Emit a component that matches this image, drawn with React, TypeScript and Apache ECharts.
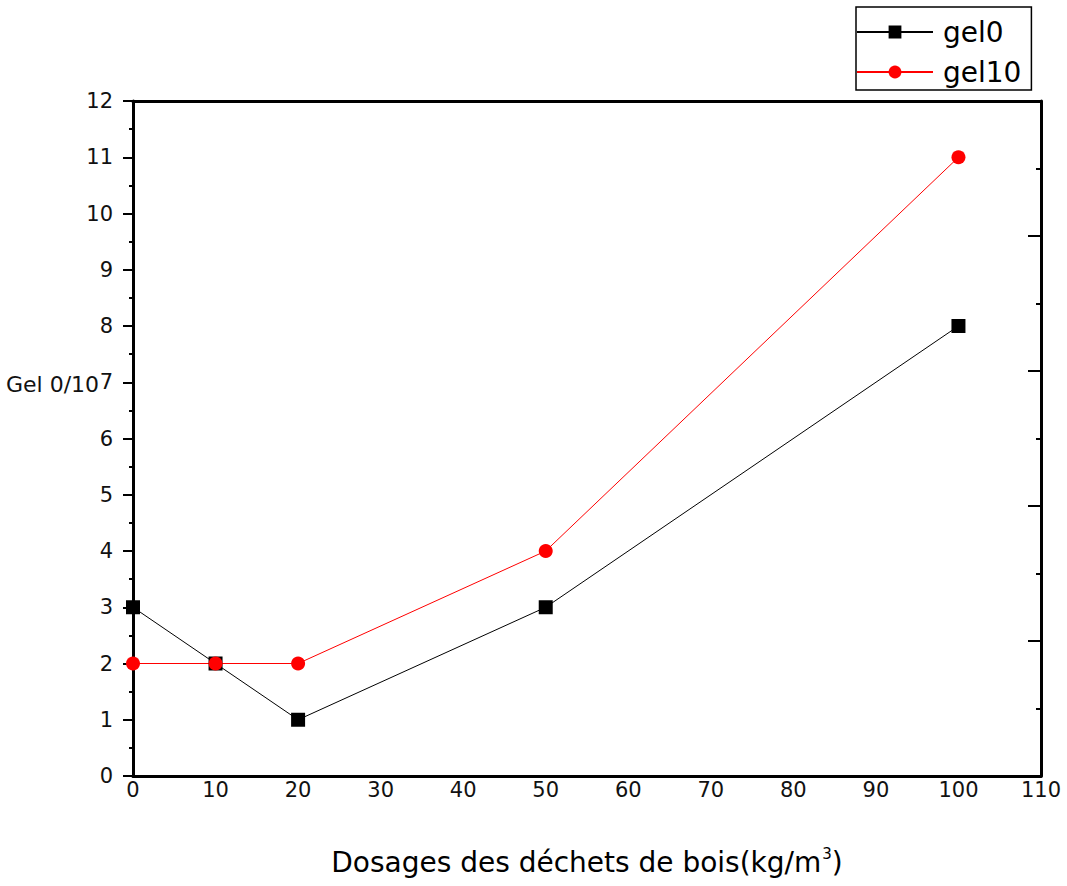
import React, { useEffect, useRef } from "react";
import * as echarts from "echarts";

const dosages = [0, 10, 20, 50, 100];
const gel0 = [3, 2, 1, 3, 8];
const gel10 = [2, 2, 2, 4, 11];
const seriesNames = ["gel0", "gel10"];

export default function App() {
  const ref = useRef<HTMLDivElement>(null);
  useEffect(() => {
    const chart = echarts.init(ref.current!, null, { renderer: "svg" });
    const font = "DejaVu Sans, Liberation Sans, Arial, sans-serif";
    chart.setOption({
      animation: false,
      backgroundColor: "#fff",
      textStyle: { fontFamily: font },
      grid: { left: 133, top: 101, width: 908, height: 675 },
      legend: {
        left: 856,
        top: 7,
        orient: "vertical",
        itemWidth: 76,
        itemHeight: 16,
        itemGap: 12,
        padding: [11, 10, 4, 0],
        borderColor: "#000",
        borderWidth: 1.5,
        textStyle: { fontSize: 28, lineHeight: 28, color: "#000", fontFamily: font, padding: [0, 0, 0, 5] },
        data: seriesNames,
      },
      xAxis: [
        {
          type: "value",
          min: 0,
          max: 110,
          interval: 10,
          position: "bottom",
          axisLine: { show: true, onZero: false, lineStyle: { color: "#000", width: 3 } },
          axisTick: { show: false },
          splitLine: { show: false },
          axisLabel: { fontSize: 21, color: "#111", margin: 3, fontFamily: font },
          name: "{a|Dosages des déchets de bois(kg/m}{s|3}{a|)}",
          nameLocation: "middle",
          nameGap: 70,
          nameTextStyle: {
            rich: {
              a: { fontSize: 28, color: "#000", fontFamily: font, verticalAlign: "bottom" },
              s: { fontSize: 15, color: "#000", fontFamily: font, padding: [0, 0, 15, 1], verticalAlign: "bottom" },
            },
          },
        },
        {
          type: "value",
          min: 0,
          max: 110,
          position: "top",
          axisLine: { show: true, onZero: false, lineStyle: { color: "#000", width: 3 } },
          axisTick: { show: false },
          axisLabel: { show: false },
          splitLine: { show: false },
        },
      ],
      yAxis: [
        {
          type: "value",
          min: 0,
          max: 12,
          interval: 1,
          position: "left",
          axisLine: { show: true, onZero: false, lineStyle: { color: "#000", width: 3 } },
          axisTick: { show: true, length: 10, lineStyle: { color: "#000", width: 2 } },
          minorTick: { show: true, splitNumber: 2, length: 4, lineStyle: { color: "#000", width: 2 } },
          splitLine: { show: false },
          axisLabel: { fontSize: 21, color: "#111", margin: 20, fontFamily: font },
        },
        {
          type: "value",
          min: 0,
          max: 12,
          interval: 2.4,
          position: "right",
          axisLine: { show: true, onZero: false, lineStyle: { color: "#000", width: 3 } },
          axisTick: { show: true, inside: true, length: 13, lineStyle: { color: "#000", width: 2 } },
          minorTick: { show: true, splitNumber: 2, length: 5, lineStyle: { color: "#000", width: 2 } },
          splitLine: { show: false },
          axisLabel: { show: false },
        },
      ],
      graphic: [
        {
          type: "text",
          left: 6,
          top: 373,
          z: 100,
          style: { text: "Gel 0/10", fontSize: 22, fill: "#111", fontFamily: font },
        },
      ],
      series: [
        {
          name: seriesNames[0],
          type: "line",
          data: dosages.map((d, i) => [d, gel0[i]]),
          symbol: "rect",
          symbolSize: 14,
          itemStyle: { color: "#000" },
          lineStyle: { color: "#000", width: 1 },
        },
        {
          name: seriesNames[1],
          type: "line",
          data: dosages.map((d, i) => [d, gel10[i]]),
          symbol: "circle",
          symbolSize: 14,
          itemStyle: { color: "#ff0000" },
          lineStyle: { color: "#ff0000", width: 1 },
        },
      ],
    });
    return () => chart.dispose();
  }, []);
  return (
    <div
      ref={ref}
      style={{ position: "absolute", left: 0, top: 0, width: 1067, height: 886 }}
    />
  );
}
